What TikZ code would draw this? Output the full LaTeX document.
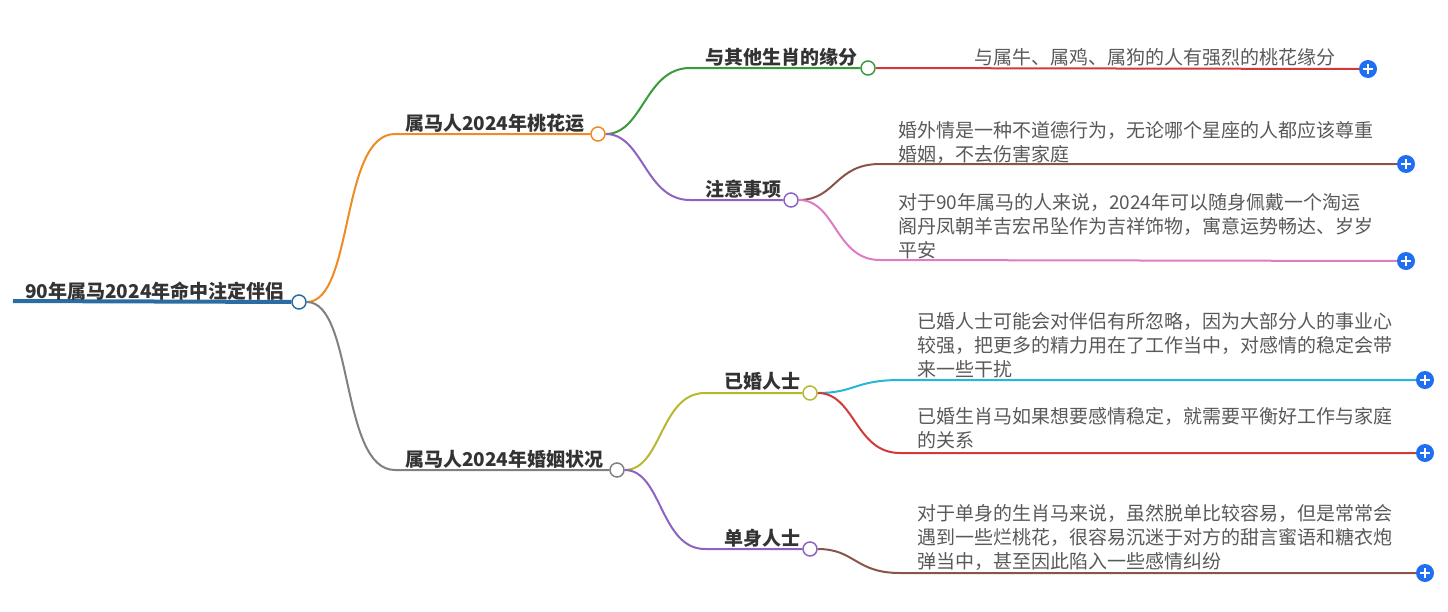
\documentclass[tikz,border=0pt]{standalone}
\usepackage{fontspec}
\setmainfont{Noto Sans CJK SC}
\usetikzlibrary{backgrounds}
\definecolor{rootblue}{HTML}{2B6CA3}
\definecolor{corange}{HTML}{F08A24}
\definecolor{cgray}{HTML}{808080}
\definecolor{cgreen}{HTML}{3A9A3A}
\definecolor{cpurple}{HTML}{8D63C2}
\definecolor{cred}{HTML}{D23A3A}
\definecolor{cbrown}{HTML}{8A5548}
\definecolor{cpink}{HTML}{DC7CC5}
\definecolor{colive}{HTML}{B8B82E}
\definecolor{ccyan}{HTML}{27B6D8}
\definecolor{plusblue}{HTML}{1F6FF0}
\definecolor{txtgray}{HTML}{595959}
\definecolor{lblgray}{HTML}{333333}
\tikzset{
  lbl/.style={font=\fontsize{19}{24}\selectfont\bfseries, text=lblgray, anchor=west, inner sep=0pt},
  body/.style={font=\fontsize{19}{24}\selectfont, text=txtgray, anchor=north west, inner sep=0pt, align=left},
  knot/.style={circle, draw=#1, fill=white, line width=1.5pt, minimum size=14pt, inner sep=0pt},
  plusnode/.style={circle, fill=plusblue, minimum size=18pt, inner sep=0pt,
    path picture={\draw[white, line width=2pt]
      ([xshift=-5pt]path picture bounding box.center) -- ([xshift=5pt]path picture bounding box.center)
      ([yshift=-5pt]path picture bounding box.center) -- ([yshift=5pt]path picture bounding box.center);}},
  conn/.style={line width=2pt, #1}
}
\begin{document}
\begin{tikzpicture}[x=1pt,y=-1pt]
\useasboundingbox (0,0) rectangle (1448,611);
% circles
\node[knot=rootblue] (r) at (299,302) {};
\node[knot=corange] (a) at (598,134) {};
\node[knot=cgray] (b) at (617,470) {};
\node[knot=cgreen] (a1) at (868,68) {};
\node[knot=cpurple] (a2) at (791,200) {};
\node[knot=colive] (b1) at (810,393) {};
\node[knot=cpurple] (b2) at (810,549) {};
% plus icons
\node[plusnode] (p1) at (1368,69) {};
\node[plusnode] (p2) at (1406,164) {};
\node[plusnode] (p3) at (1406,261) {};
\node[plusnode] (p4) at (1425,380) {};
\node[plusnode] (p5) at (1425,453) {};
\node[plusnode] (p6) at (1425,573) {};
% bend coordinates
\coordinate (rs) at (13,301);
\coordinate (ka) at (395,134);
\coordinate (kb) at (395,470);
\coordinate (ka1) at (690,68);
\coordinate (ka2) at (690,200);
\coordinate (kb1) at (705,393);
\coordinate (kb2) at (705,549);
\coordinate (k2) at (880,164);
\coordinate (k3) at (880,260);
\coordinate (k4) at (900,380);
\coordinate (k5) at (900,453);
\coordinate (k6) at (900,573);
% labels
\node[lbl] (tr) at (25,291) {90年属马2024年命中注定伴侣};
\node[lbl] (ta) at (405,123) {属马人2024年桃花运};
\node[lbl] (tb) at (405,459) {属马人2024年婚姻状况};
\node[lbl] (ta1) at (705,57) {与其他生肖的缘分};
\node[lbl] (ta2) at (705,189) {注意事项};
\node[lbl] (tb1) at (724,381) {已婚人士};
\node[lbl] (tb2) at (724,538) {单身人士};
% body texts
\node[body, anchor=west] (t1) at (974,57) {与属牛、属鸡、属狗的人有强烈的桃花缘分};
\node[body] (t2) at (898,121) {婚外情是一种不道德行为，无论哪个星座的人都应该尊重\\婚姻，不去伤害家庭};
\node[body] (t3) at (898,193) {对于90年属马的人来说，2024年可以随身佩戴一个淘运\\阁丹凤朝羊吉宏吊坠作为吉祥饰物，寓意运势畅达、岁岁\\平安};
\node[body] (t4) at (917,312) {已婚人士可能会对伴侣有所忽略，因为大部分人的事业心\\较强，把更多的精力用在了工作当中，对感情的稳定会带\\来一些干扰};
\node[body] (t5) at (917,407) {已婚生肖马如果想要感情稳定，就需要平衡好工作与家庭\\的关系};
\node[body] (t6) at (917,504) {对于单身的生肖马来说，虽然脱单比较容易，但是常常会\\遇到一些烂桃花，很容易沉迷于对方的甜言蜜语和糖衣炮\\弹当中，甚至因此陷入一些感情纠纷};
% connectors
\begin{pgfonlayer}{background}
\draw[rootblue, line width=4pt] (rs) -- (r);
\draw[conn=corange] (r) .. controls +(55,0) and +(-55,0) .. (ka) -- (a);
\draw[conn=cgray] (r) .. controls +(55,0) and +(-55,0) .. (kb) -- (b);
\draw[conn=cgreen] (a) .. controls +(45,0) and +(-45,0) .. (ka1) -- (a1);
\draw[conn=cpurple] (a) .. controls +(45,0) and +(-45,0) .. (ka2) -- (a2);
\draw[conn=colive] (b) .. controls +(45,0) and +(-45,0) .. (kb1) -- (b1);
\draw[conn=cpurple] (b) .. controls +(45,0) and +(-45,0) .. (kb2) -- (b2);
\draw[conn=cred] (a1) -- (p1);
\draw[conn=cbrown] (a2) .. controls +(45,0) and +(-45,0) .. (k2) -- (p2);
\draw[conn=cpink] (a2) .. controls +(45,0) and +(-45,0) .. (k3) -- (p3);
\draw[conn=ccyan] (b1) .. controls +(45,0) and +(-45,0) .. (k4) -- (p4);
\draw[conn=cred] (b1) .. controls +(45,0) and +(-45,0) .. (k5) -- (p5);
\draw[conn=cbrown] (b2) .. controls +(45,0) and +(-45,0) .. (k6) -- (p6);
\end{pgfonlayer}
\end{tikzpicture}
\end{document}
